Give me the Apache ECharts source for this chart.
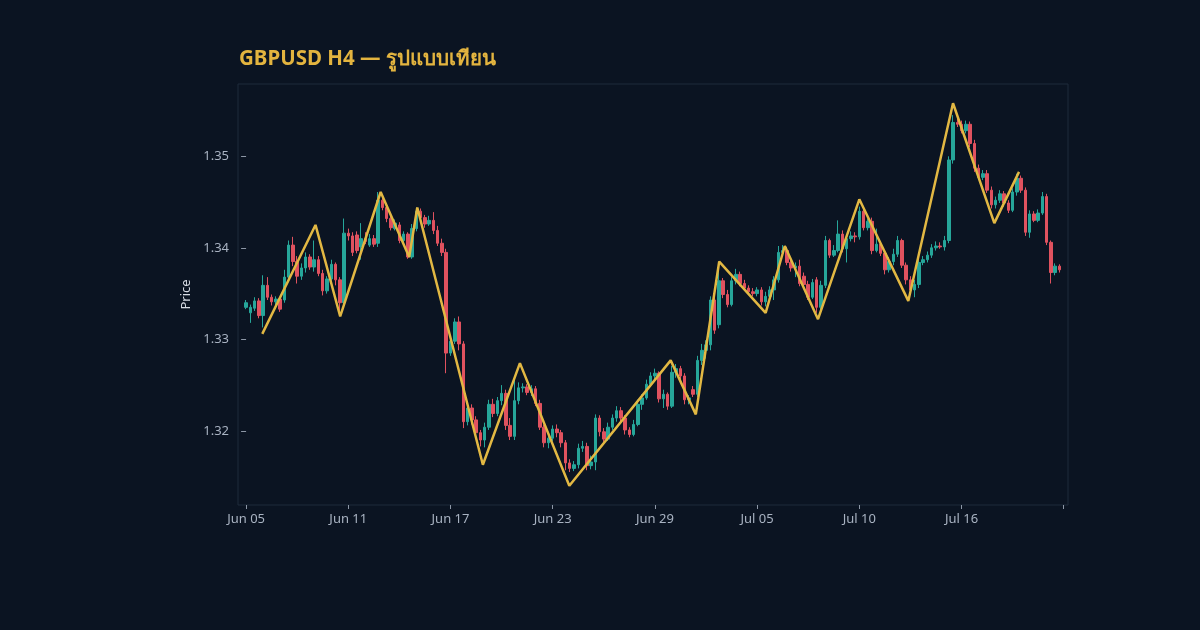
<!DOCTYPE html>
<html>
<head>
<meta charset="utf-8">
<script src="https://cdn.jsdelivr.net/npm/echarts@6/dist/echarts.min.js"></script>
<style>
html,body{margin:0;padding:0;background:#0b1422;}
#chart{width:1200px;height:630px;}
</style>
</head>
<body>
<div id="chart"></div>
<script>
// ---- data (H4 candles, index 0 = first bar) ----
const tickLabels = ['Jun 05','Jun 11','Jun 17','Jun 23','Jun 29','Jul 05','Jul 10','Jul 16'];
const tickIndex = [0,24,48,72,96,120,144,168,192];

const open = [
1.3335,1.3329,1.3334,1.3342,1.3326,1.3359,1.3346,1.3341,1.3344,1.3343,
1.3368,1.3403,1.3385,1.3369,1.3378,1.3390,1.3379,1.3387,1.3372,1.3353,
1.3366,1.3382,1.3365,1.3340,1.3416,1.3413,1.3414,1.3401,1.3410,1.3403,
1.3410,1.3405,1.3452,1.3444,1.3432,1.3421,1.3425,1.3408,1.3415,1.3390,
1.3421,1.3440,1.3433,1.3426,1.3430,1.3419,1.3405,1.3395,1.3285,1.3298,
1.3319,1.3295,1.3210,1.3225,1.3212,1.3198,1.3190,1.3204,1.3229,1.3219,
1.3233,1.3241,1.3206,1.3194,1.3233,1.3247,1.3248,1.3242,1.3246,1.3230,
1.3204,1.3187,1.3192,1.3202,1.3198,1.3187,1.3165,1.3159,1.3163,1.3181,
1.3183,1.3162,1.3166,1.3214,1.3199,1.3191,1.3204,1.3214,1.3222,1.3214,
1.3201,1.3196,1.3207,1.3229,1.3236,1.3251,1.3260,1.3263,1.3235,1.3240,
1.3227,1.3264,1.3268,1.3260,1.3234,1.3245,1.3240,1.3277,1.3288,1.3294,
1.3343,1.3316,1.3364,1.3349,1.3338,1.3364,1.3371,1.3361,1.3356,1.3352,
1.3350,1.3354,1.3341,1.3347,1.3354,1.3365,1.3395,1.3397,1.3384,1.3378,
1.3380,1.3369,1.3360,1.3346,1.3365,1.3335,1.3359,1.3408,1.3392,1.3397,
1.3415,1.3399,1.3410,1.3413,1.3412,1.3440,1.3422,1.3429,1.3397,1.3404,
1.3394,1.3376,1.3385,1.3393,1.3408,1.3381,1.3365,1.3354,1.3360,1.3384,
1.3387,1.3392,1.3400,1.3402,1.3401,1.3408,1.3496,1.3537,1.3535,1.3528,
1.3535,1.3514,1.3487,1.3477,1.3481,1.3463,1.3447,1.3452,1.3459,1.3449,
1.3441,1.3461,1.3476,1.3463,1.3417,1.3437,1.3430,1.3438,1.3456,1.3406,
1.3373,1.3380];
const close = [
1.3340,1.3335,1.3342,1.3326,1.3359,1.3346,1.3341,1.3344,1.3333,1.3368,
1.3403,1.3385,1.3369,1.3378,1.3390,1.3379,1.3387,1.3372,1.3353,1.3366,
1.3382,1.3365,1.3340,1.3416,1.3413,1.3395,1.3397,1.3410,1.3407,1.3410,
1.3404,1.3452,1.3444,1.3432,1.3422,1.3427,1.3408,1.3415,1.3390,1.3421,
1.3440,1.3433,1.3426,1.3430,1.3419,1.3405,1.3395,1.3285,1.3298,1.3319,
1.3295,1.3210,1.3225,1.3212,1.3198,1.3190,1.3204,1.3229,1.3219,1.3233,
1.3241,1.3206,1.3194,1.3233,1.3247,1.3248,1.3242,1.3246,1.3230,1.3204,
1.3187,1.3192,1.3202,1.3198,1.3187,1.3165,1.3159,1.3163,1.3181,1.3183,
1.3162,1.3166,1.3214,1.3199,1.3191,1.3204,1.3214,1.3222,1.3214,1.3201,
1.3196,1.3207,1.3229,1.3236,1.3251,1.3260,1.3263,1.3235,1.3240,1.3227,
1.3264,1.3268,1.3260,1.3234,1.3236,1.3240,1.3277,1.3288,1.3294,1.3343,
1.3310,1.3364,1.3349,1.3338,1.3364,1.3371,1.3361,1.3356,1.3352,1.3350,
1.3354,1.3341,1.3347,1.3354,1.3365,1.3395,1.3397,1.3384,1.3378,1.3380,
1.3361,1.3360,1.3346,1.3362,1.3335,1.3359,1.3408,1.3392,1.3397,1.3415,
1.3399,1.3410,1.3413,1.3412,1.3440,1.3422,1.3429,1.3397,1.3404,1.3394,
1.3376,1.3385,1.3393,1.3408,1.3381,1.3365,1.3354,1.3360,1.3384,1.3387,
1.3392,1.3400,1.3402,1.3401,1.3408,1.3496,1.3537,1.3535,1.3528,1.3535,
1.3514,1.3487,1.3477,1.3481,1.3463,1.3447,1.3452,1.3459,1.3449,1.3441,
1.3461,1.3476,1.3463,1.3417,1.3437,1.3430,1.3438,1.3456,1.3406,1.3373,
1.3380,1.3376];
const high = [
1.3343,1.3338,1.3346,1.3345,1.3370,1.3368,1.3349,1.3347,1.3346,1.3376,
1.3408,1.3412,1.3391,1.3383,1.3395,1.3393,1.3408,1.3391,1.3376,1.3369,
1.3387,1.3384,1.3368,1.3432,1.3421,1.3417,1.3418,1.3427,1.3417,1.3415,
1.3414,1.3461,1.3456,1.3448,1.3437,1.3431,1.3428,1.3418,1.3417,1.3426,
1.3444,1.3443,1.3436,1.3435,1.3439,1.3424,1.3410,1.3399,1.3303,1.3323,
1.3325,1.3298,1.3230,1.3229,1.3216,1.3201,1.3209,1.3234,1.3235,1.3237,
1.3250,1.3245,1.3214,1.3256,1.3253,1.3252,1.3251,1.3250,1.3249,1.3234,
1.3207,1.3195,1.3206,1.3207,1.3201,1.3190,1.3169,1.3167,1.3186,1.3189,
1.3187,1.3173,1.3218,1.3217,1.3203,1.3209,1.3218,1.3227,1.3226,1.3217,
1.3204,1.3212,1.3234,1.3240,1.3256,1.3264,1.3268,1.3265,1.3245,1.3242,
1.3271,1.3273,1.3271,1.3263,1.3239,1.3249,1.3282,1.3295,1.3299,1.3347,
1.3346,1.3380,1.3367,1.3354,1.3368,1.3377,1.3374,1.3365,1.3359,1.3356,
1.3357,1.3357,1.3352,1.3358,1.3369,1.3402,1.3403,1.3401,1.3389,1.3384,
1.3387,1.3373,1.3364,1.3366,1.3368,1.3364,1.3413,1.3410,1.3403,1.3430,
1.3419,1.3415,1.3418,1.3417,1.3445,1.3442,1.3432,1.3433,1.3421,1.3407,
1.3397,1.3390,1.3399,1.3413,1.3410,1.3384,1.3369,1.3365,1.3389,1.3391,
1.3396,1.3404,1.3407,1.3406,1.3413,1.3500,1.3545,1.3546,1.3539,1.3539,
1.3538,1.3518,1.3491,1.3485,1.3485,1.3467,1.3456,1.3463,1.3462,1.3452,
1.3465,1.3481,1.3479,1.3466,1.3441,1.3440,1.3442,1.3461,1.3459,1.3408,
1.3383,1.3382];
const low = [
1.3333,1.3318,1.3331,1.3323,1.3313,1.3343,1.3337,1.3336,1.3330,1.3340,
1.3365,1.3380,1.3361,1.3365,1.3373,1.3376,1.3374,1.3369,1.3348,1.3350,
1.3364,1.3359,1.3331,1.3336,1.3408,1.3391,1.3394,1.3387,1.3404,1.3401,
1.3401,1.3401,1.3441,1.3428,1.3419,1.3419,1.3405,1.3404,1.3388,1.3388,
1.3418,1.3430,1.3422,1.3424,1.3415,1.3402,1.3391,1.3263,1.3282,1.3295,
1.3288,1.3203,1.3206,1.3207,1.3193,1.3183,1.3182,1.3201,1.3215,1.3216,
1.3228,1.3201,1.3190,1.3190,1.3229,1.3242,1.3239,1.3238,1.3227,1.3201,
1.3182,1.3181,1.3189,1.3193,1.3182,1.3157,1.3155,1.3156,1.3159,1.3177,
1.3157,1.3158,1.3157,1.3194,1.3188,1.3189,1.3201,1.3210,1.3210,1.3196,
1.3193,1.3194,1.3205,1.3223,1.3234,1.3249,1.3256,1.3231,1.3225,1.3223,
1.3225,1.3258,1.3256,1.3229,1.3229,1.3237,1.3237,1.3272,1.3279,1.3288,
1.3306,1.3312,1.3345,1.3335,1.3336,1.3360,1.3358,1.3353,1.3349,1.3347,
1.3347,1.3337,1.3336,1.3344,1.3343,1.3362,1.3391,1.3381,1.3374,1.3368,
1.3358,1.3357,1.3343,1.3344,1.3329,1.3332,1.3356,1.3389,1.3390,1.3395,
1.3395,1.3384,1.3407,1.3406,1.3409,1.3419,1.3419,1.3393,1.3395,1.3391,
1.3371,1.3373,1.3381,1.3390,1.3378,1.3360,1.3349,1.3346,1.3356,1.3381,
1.3384,1.3389,1.3397,1.3399,1.3397,1.3405,1.3492,1.3532,1.3525,1.3525,
1.3510,1.3483,1.3474,1.3474,1.3460,1.3443,1.3443,1.3449,1.3445,1.3438,
1.3439,1.3457,1.3460,1.3413,1.3411,1.3428,1.3428,1.3436,1.3403,1.3361,
1.3370,1.3373];

// zigzag "pattern" pivots: bar position and price
const patternX = [3.8,16.3,22.1,31.6,38.3,40.2,55.6,64.3,75.9,99.7,105.6,111.1,122,126.5,134.3,144,155.5,166,175.7,181.5];
const patternY = [1.3306,1.3425,1.3325,1.3461,1.3390,1.3444,1.3163,1.3274,1.3140,1.3277,1.3218,1.3385,1.3329,1.3402,1.3322,1.3453,1.3342,1.3558,1.3427,1.3483];

const priceTicks = [1.32,1.33,1.34,1.35];

// ---- build ----
const candleData = open.map((o,i)=>[i,o,close[i],low[i],high[i]]);
const lineData = patternX.map((x,i)=>[x,patternY[i]]);

const chart = echarts.init(document.getElementById('chart'), null, {renderer:'canvas'});
const FONT = "'Noto Sans', 'DejaVu Sans', sans-serif";
chart.setOption({
  backgroundColor:'#0b1422',
  animation:false,
  title:{
    text:'GBPUSD H4 — รูปแบบเทียน',
    left:234, top:44,
    textStyle:{color:'#e3b43f',fontSize:20.5,fontWeight:'bold',fontFamily:FONT}
  },
  grid:{left:238,right:132,top:84,bottom:125,show:true,borderColor:'#1e2a3b',borderWidth:1,backgroundColor:'transparent'},
  xAxis:{
    type:'value', min:-1.9, max:193,
    splitLine:{show:false},
    axisLine:{show:false},
    axisTick:{show:true,length:4,lineStyle:{color:'#8d97a6'},customValues:tickIndex},
    axisLabel:{color:'#a9b3c2',fontSize:13,fontFamily:FONT,margin:8,customValues:tickIndex.slice(0,8),
      formatter:(v)=>{const k=Math.round(v/24);return tickLabels[k]||'';}}
  },
  yAxis:{
    type:'value', min:1.3119, max:1.3579,
    name:'Price', nameLocation:'middle', nameGap:42, nameRotate:90,
    nameTextStyle:{color:'#d6dbe3',fontSize:13,fontFamily:FONT},
    splitLine:{show:false},
    axisLine:{show:false},
    axisTick:{show:true,length:5,lineStyle:{color:'#8d97a6'},customValues:priceTicks},
    axisLabel:{color:'#a9b3c2',fontSize:13,fontFamily:FONT,margin:9,customValues:priceTicks,
      formatter:(v)=>v.toFixed(2)}
  },
  series:[
    {
      type:'candlestick',
      data:candleData,
      encode:{x:0,y:[1,2,3,4]},
      barWidth:3,
      clip:false,
      itemStyle:{color:'#26a69a',color0:'#e0525f',borderColor:'#26a69a',borderColor0:'#e0525f',borderWidth:1}
    },
    {
      type:'line',
      data:lineData,
      symbol:'none',
      lineStyle:{color:'#e2b843',width:2.5},
      z:5
    }
  ]
});
</script>
</body>
</html>
